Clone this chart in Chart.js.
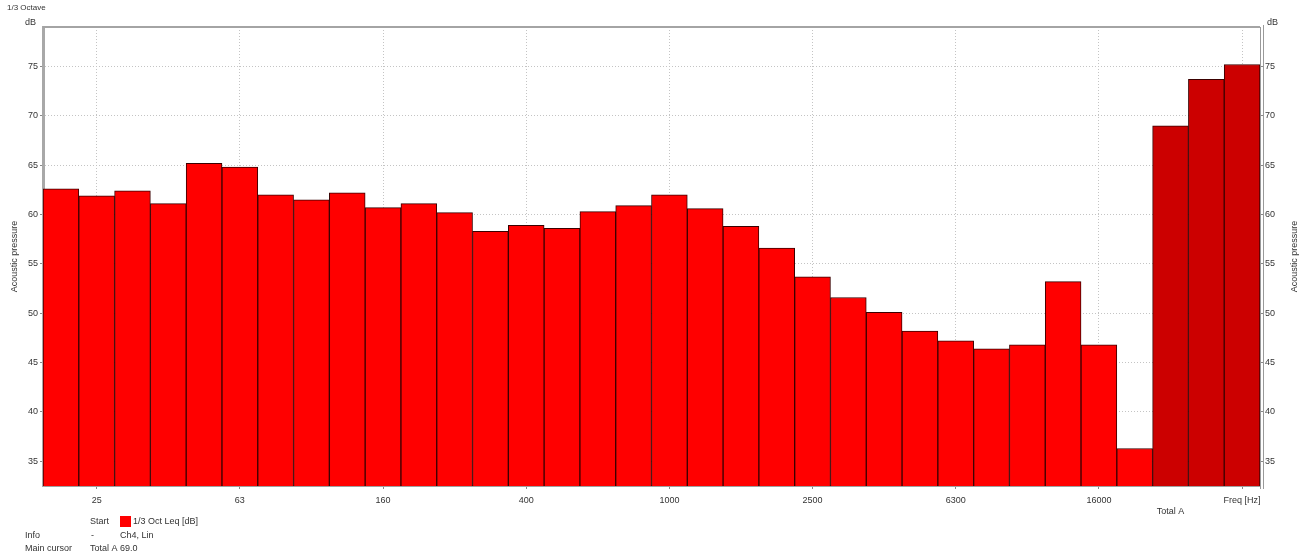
<!DOCTYPE html>
<html>
<head>
<meta charset="utf-8">
<script src="https://cdn.jsdelivr.net/npm/chart.js@4/dist/chart.umd.min.js"></script>
<style>
  html, body { margin: 0; padding: 0; background: #ffffff; }
  #wrap { width: 1308px; height: 560px; position: relative; }
</style>
</head>
<body>
<div id="wrap"><canvas id="spectrum"></canvas></div>
<script>
// 1/3-octave band centre frequencies followed by the overall totals
const bands = ['20','25','31.5','40','50','63','80','100','125','160','200','250','315','400','500',
               '630','800','1000','1250','1600','2000','2500','3150','4000','5000','6300','8000',
               '10000','12500','16000','20000','Total A','Total C','Total Z'];

// Leq per band [dB], then the totals
const leq = [62.6, 61.9, 62.4, 61.1, 65.2, 64.8, 62.0, 61.5, 62.2, 60.7, 61.1, 60.2, 58.3, 58.9, 58.6,
             60.3, 60.9, 62.0, 60.6, 58.8, 56.6, 53.7, 51.6, 50.1, 48.2, 47.2, 46.4,
             46.8, 53.2, 46.8, 36.3, 69.0, 73.7, 75.2];

// band labels written under the frequency axis
const labelledBands = ['25', '63', '160', '400', '1000', '2500', '6300', '16000'];

// value axis ticks
const yTicks = [35, 40, 45, 50, 55, 60, 65, 70, 75];
const yMin = 32.5, yMax = 79;

const FONT = 'Liberation Sans';
const TEXT = '#333333';
const BAND_RED = '#ff0000';
const TOTAL_RED = '#cc0000';
const GRID = '#c4c4c4';

const isTotal = i => bands[i].startsWith('Total');
const freqLineIdx = i => labelledBands.includes(bands[i]) || i === bands.length - 1;

function keepTicks(scale) {
  scale.ticks = yTicks.map(v => ({ value: v }));
}

const panelText = {
  id: 'panelText',
  afterDraw(chart) {
    const ctx = chart.ctx;
    const a = chart.chartArea;
    ctx.save();

    // frame: top edge, right edge and the outer right rule
    ctx.strokeStyle = '#a4a4a4';
    ctx.lineWidth = 2;
    ctx.beginPath();
    ctx.moveTo(a.left, a.top);
    ctx.lineTo(a.right, a.top);
    ctx.stroke();
    ctx.lineWidth = 1;
    ctx.strokeStyle = '#9a9a9a';
    ctx.beginPath();
    ctx.moveTo(a.right + 0.5, a.top);
    ctx.lineTo(a.right + 0.5, a.bottom + 3);
    ctx.moveTo(a.right + 3.5, a.top - 2);
    ctx.lineTo(a.right + 3.5, a.bottom + 3);
    ctx.stroke();

    ctx.fillStyle = TEXT;
    ctx.textBaseline = 'middle';

    // window caption
    ctx.font = `8px "${FONT}"`;
    ctx.textAlign = 'left';
    ctx.fillText('1/3 Octave', 7, 8);

    // units above both value axes
    ctx.font = `9px "${FONT}"`;
    ctx.fillText('dB', 25, 23);
    ctx.fillText('dB', a.right + 7, 23);

    // value axis titles
    const midY = (a.top + a.bottom) / 2;
    ctx.textAlign = 'center';
    [15, 1295].forEach(x => {
      ctx.save();
      ctx.translate(x, midY);
      ctx.rotate(-Math.PI / 2);
      ctx.fillText('Acoustic pressure', 0, 0);
      ctx.restore();
    });

    // series / cursor information block
    const totalA = leq[bands.indexOf('Total A')];
    ctx.textAlign = 'left';
    ctx.fillText('Start', 90, 522);
    ctx.fillStyle = BAND_RED;
    ctx.fillRect(120, 516, 11, 11);
    ctx.fillStyle = TEXT;
    ctx.fillText('1/3 Oct Leq [dB]', 133, 522);
    ctx.fillText('Info', 25, 536);
    ctx.fillText('-', 91, 536);
    ctx.fillText('Ch4, Lin', 120, 536);
    ctx.fillText('Main cursor', 25, 549);
    ctx.fillText('Total A ' + totalA.toFixed(1), 90, 549);

    ctx.restore();
  }
};

const yAxisCommon = {
  type: 'linear',
  min: yMin,
  max: yMax,
  afterBuildTicks: keepTicks,
  ticks: { color: TEXT, font: { family: FONT, size: 9 }, padding: 2 },
};

new Chart(document.getElementById('spectrum'), {
  type: 'bar',
  data: {
    labels: bands,
    datasets: [{
      label: '1/3 Oct Leq [dB]',
      data: leq,
      backgroundColor: c => isTotal(c.dataIndex) ? TOTAL_RED : BAND_RED,
      borderColor: '#3a0000',
      borderWidth: 1,
      borderSkipped: 'bottom',
      barPercentage: 1,
      categoryPercentage: 1,
      base: yMin
    }]
  },
  options: {
    responsive: true,
    maintainAspectRatio: false,
    animation: false,
    events: [],
    layout: { padding: { top: 27, left: 0, right: 0, bottom: 0 } },
    plugins: { legend: { display: false }, tooltip: { enabled: false } },
    scales: {
      x: {
        type: 'category',
        offset: true,
        grid: {
          offset: false,
          color: c => freqLineIdx(c.index) ? GRID : 'rgba(0,0,0,0)',
          tickColor: c => freqLineIdx(c.index) ? '#888888' : 'rgba(0,0,0,0)',
          tickLength: 3
        },
        border: { color: '#a0a0a0', width: 2, dash: [1, 2] },
        ticks: {
          autoSkip: false,
          maxRotation: 0,
          minRotation: 0,
          padding: 6,
          color: TEXT,
          font: { family: FONT, size: 9 },
          callback: (v, i) => {
            const b = bands[i];
            if (labelledBands.includes(b)) return b;
            if (b === 'Total A') return ['', 'Total A'];
            if (i === bands.length - 1) return 'Freq [Hz]';
            return '';
          }
        },
        afterFit: s => { s.height = 74; }
      },
      y: {
        ...yAxisCommon,
        position: 'left',
        grid: { color: GRID, tickColor: '#888888', tickLength: 3 },
        border: { color: '#a8a8a8', width: 3, dash: [1, 2] },
        afterFit: s => { s.width = 43; }
      },
      y2: {
        ...yAxisCommon,
        position: 'right',
        grid: { drawOnChartArea: false, color: '#888888', tickLength: 3 },
        border: { color: '#a0a0a0', width: 1 },
        afterFit: s => { s.width = 48; }
      }
    }
  },
  plugins: [panelText]
});
</script>
</body>
</html>
